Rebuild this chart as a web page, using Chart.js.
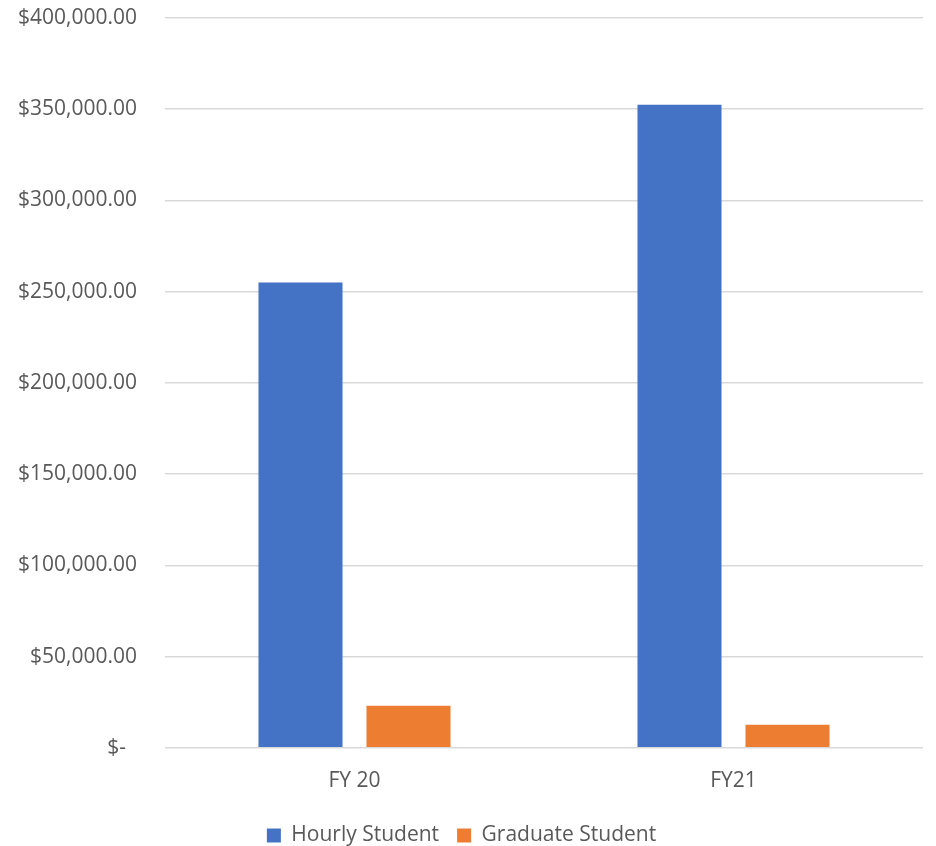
<!DOCTYPE html>
<html>
<head>
<meta charset="utf-8">
<script src="https://cdn.jsdelivr.net/npm/chart.js@4/dist/chart.umd.min.js"></script>
<style>
  html, body { margin: 0; padding: 0; background: #fff; }
  #wrap { width: 936px; height: 846px; }
</style>
</head>
<body>
<div id="wrap"><canvas id="grafica"></canvas></div>
<script>
const categorias = ["FY 20", "FY21"];
const hourlyStudent = [255000, 352500];
const graduateStudent = [23000, 12600];
const yMin = 0;
const yMax = 400000;
const yStep = 50000;

const texto = "#595959";
const rejilla = "#d9d9d9";
const fuente = "'Open Sans', 'Noto Sans', sans-serif";

function formatoDolar(v) {
  if (v === 0) return "$-  ";
  return "$" + v.toLocaleString("en-US", { minimumFractionDigits: 2, maximumFractionDigits: 2 });
}

const ctx = document.getElementById("grafica").getContext("2d");
new Chart(ctx, {
  type: "bar",
  data: {
    labels: categorias,
    datasets: [
      {
        label: "Hourly Student",
        data: hourlyStudent,
        backgroundColor: "#4472C4"
      },
      {
        label: "Graduate Student",
        data: graduateStudent,
        backgroundColor: "#ED7D31"
      }
    ]
  },
  options: {
    responsive: true,
    maintainAspectRatio: false,
    animation: false,
    categoryPercentage: 0.57,
    barPercentage: 0.778,
    layout: { padding: { top: 18, right: 13, left: 0, bottom: -10 } },
    plugins: {
      tooltip: { enabled: false },
      legend: {
        position: "bottom",
        labels: {
          color: texto,
          font: { family: fuente, size: 21 },
          boxWidth: 14,
          boxHeight: 14,
          padding: 18
        }
      }
    },
    scales: {
      x: {
        grid: { display: false },
        border: { display: false },
        ticks: {
          color: texto,
          font: { family: fuente, size: 21 },
          padding: 13
        }
      },
      y: {
        min: yMin,
        max: yMax,
        afterFit: s => { s.width = 165; },
        // marcas invisibles para separar las etiquetas del área
        grid: { color: rejilla, lineWidth: 1.5, tickLength: 28, tickColor: "rgba(0,0,0,0)" },
        border: { display: false },
        ticks: {
          stepSize: yStep,
          color: texto,
          font: { family: fuente, size: 21 },
          padding: 0,
          callback: v => formatoDolar(v)
        }
      }
    }
  }
});
</script>
</body>
</html>
